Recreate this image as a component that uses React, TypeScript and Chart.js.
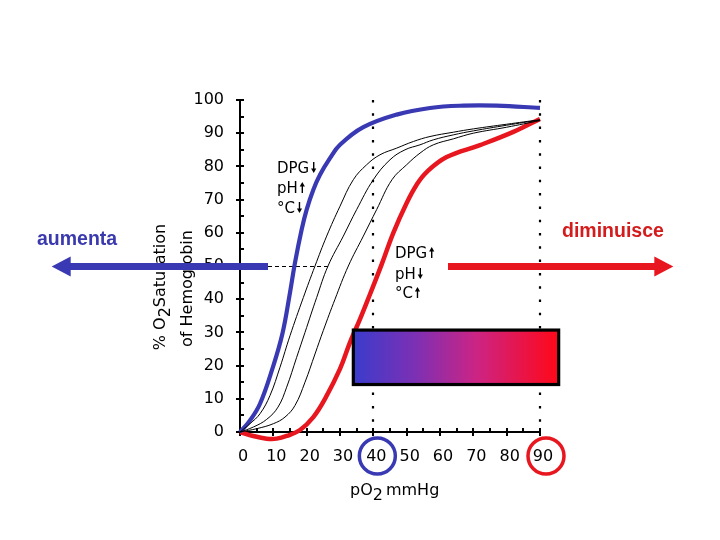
import React, { useEffect, useRef } from "react";
import { Chart, registerables } from "chart.js";

Chart.register(...registerables);

// ---- axis ticks ----
const xTickValues = [0, 10, 20, 30, 40, 50, 60, 70, 80, 90];
const yTickValues = [0, 10, 20, 30, 40, 50, 60, 70, 80, 90, 100];

// ---- left-shifted curve (blue): DPG down, pH up, temperature down ----
const bluePO2 = [0, 3, 6, 9.7, 12.7, 15, 16.5, 18.5, 20, 22, 24, 27, 30, 37, 47, 57, 67, 77, 90];
const blueSat = [0, 3.5, 8.5, 19, 29.5, 42, 51, 61, 67, 73, 77.5, 82.5, 86.5, 91.8, 95.6, 97.6, 98.3, 98.3, 97.6];

// ---- right-shifted curve (red): DPG up, pH down, temperature up ----
const redPO2 = [0, 4, 8, 11, 14, 18, 22, 25.5, 30, 33, 36, 39, 42.5, 46, 50, 53, 56, 62, 72, 82, 90];
const redSat = [0, -1.2, -2, -2, -1.2, 0.6, 4.5, 10, 19, 27, 34, 41.5, 50.5, 60, 69, 74.5, 78.3, 82.8, 86.4, 90.4, 94.3];

// ---- intermediate thin curves ----
const thinAPO2 = [0, 3, 6, 9, 12, 15, 19, 22.5, 26, 30, 34, 38, 42, 47, 52, 57, 64, 70, 80, 90, 94];
const thinASat = [0, 2.5, 5.5, 11, 19.5, 29, 40.5, 50, 59, 68, 76, 80.5, 83.5, 85.5, 87.5, 89, 90.3, 91.3, 92.7, 94, 94.2];
const thinBPO2 = [0, 4, 8, 11.4, 14, 17, 19.5, 23, 26.4, 31, 35, 40, 45, 49.5, 54, 58, 64, 70, 80, 90];
const thinBSat = [0, 1.5, 3.8, 7.5, 13.5, 22.5, 30, 40.5, 50, 59, 67, 76, 82, 85, 86.5, 88, 89.5, 90.7, 92.4, 94];
const thinCPO2 = [0, 5, 10, 13.5, 16.5, 19.5, 22.5, 25, 28.5, 32.5, 37, 41, 45.6, 50, 54, 58, 64, 70, 80, 90];
const thinCSat = [0, 1, 2.5, 4.5, 8, 15, 23.5, 30.6, 40, 50, 59, 67, 76, 80.5, 84, 86.5, 88.3, 90, 91.8, 93.8];

// ---- reference values ----
const markerPO2 = [40, 90]; // venous / arterial pO2
const p50PO2 = 26.4;
const p50Sat = 50;

// ---- annotation texts ----
const leftLabel = "aumenta";
const rightLabel = "diminuisce";
const leftShiftLines = [
  { text: "DPG", up: false },
  { text: "pH", up: true },
  { text: "°C", up: false },
];
const rightShiftLines = [
  { text: "DPG", up: true },
  { text: "pH", up: false },
  { text: "°C", up: true },
];

const FONT = "DejaVu Sans";
const BLUE = "#3939b4";
const RED = "#e8161e";

const toPoints = (xs: number[], ys: number[]) => xs.map((x, i) => ({ x, y: ys[i] }));

function smallArrow(ctx: CanvasRenderingContext2D, x: number, baseline: number, up: boolean) {
  const top = baseline - 11;
  const bottom = baseline;
  ctx.lineWidth = 1.4;
  ctx.beginPath();
  ctx.moveTo(x, up ? top + 3 : top);
  ctx.lineTo(x, up ? bottom : bottom - 3);
  ctx.stroke();
  ctx.beginPath();
  if (up) {
    ctx.moveTo(x, top);
    ctx.lineTo(x - 2.6, top + 4.5);
    ctx.lineTo(x + 2.6, top + 4.5);
  } else {
    ctx.moveTo(x, bottom);
    ctx.lineTo(x - 2.6, bottom - 4.5);
    ctx.lineTo(x + 2.6, bottom - 4.5);
  }
  ctx.closePath();
  ctx.fill();
}

function bigArrow(ctx: CanvasRenderingContext2D, x0: number, x1: number, y: number, color: string) {
  const dir = x1 > x0 ? 1 : -1;
  const headLen = 19;
  ctx.strokeStyle = color;
  ctx.fillStyle = color;
  ctx.lineWidth = 7;
  ctx.beginPath();
  ctx.moveTo(x0, y);
  ctx.lineTo(x1 - dir * (headLen - 2), y);
  ctx.stroke();
  ctx.beginPath();
  ctx.moveTo(x1, y);
  ctx.lineTo(x1 - dir * headLen, y - 10);
  ctx.lineTo(x1 - dir * headLen, y + 10);
  ctx.closePath();
  ctx.fill();
}

const decor = {
  id: "decor",
  beforeDatasetsDraw(chart: any) {
    const { ctx, scales } = chart;
    const x = scales.x;
    const y = scales.y;
    const x0 = x.getPixelForValue(0);
    const y0 = y.getPixelForValue(0);
    const yTop = y.getPixelForValue(100);
    ctx.save();
    ctx.strokeStyle = "#000";
    ctx.lineWidth = 2.2;
    ctx.setLineDash([2.5, 10.8]);
    for (const v of markerPO2) {
      const px = Math.round(x.getPixelForValue(v));
      ctx.beginPath();
      ctx.moveTo(px, yTop);
      ctx.lineTo(px, y0);
      ctx.stroke();
    }
    ctx.lineWidth = 1;
    ctx.setLineDash([4, 3]);
    const py50 = Math.round(y.getPixelForValue(p50Sat)) + 0.5;
    ctx.beginPath();
    ctx.moveTo(x0, py50);
    ctx.lineTo(x.getPixelForValue(p50PO2), py50);
    ctx.stroke();
    ctx.setLineDash([]);
    ctx.lineWidth = 2;
    ctx.beginPath();
    ctx.moveTo(x0, yTop);
    ctx.lineTo(x0, y0);
    ctx.lineTo(x.getPixelForValue(90), y0);
    ctx.stroke();
    for (let v = 0; v <= 100; v += 5) {
      const py = Math.round(y.getPixelForValue(v));
      const major = v % 10 === 0;
      ctx.beginPath();
      ctx.moveTo(major ? x0 - 4 : x0, py);
      ctx.lineTo(x0 + 4, py);
      ctx.stroke();
    }
    for (let v = 0; v <= 90; v += 5) {
      const px = Math.round(x.getPixelForValue(v));
      const major = v % 10 === 0;
      ctx.beginPath();
      ctx.moveTo(px, major ? y0 + 4 : y0);
      ctx.lineTo(px, y0 - 4);
      ctx.stroke();
    }
    ctx.restore();
  },
  afterDraw(chart: any) {
    const { ctx, scales } = chart;
    const x = scales.x;
    const y = scales.y;
    ctx.save();

    ctx.fillStyle = "#000";
    ctx.font = `16px "${FONT}"`;
    ctx.textBaseline = "alphabetic";
    {
      const a = "% O";
      const b = "2";
      const c = "Saturation";
      const w = ctx.measureText(a).width + ctx.measureText(b).width + ctx.measureText(c).width;
      ctx.save();
      ctx.translate(165, 287);
      ctx.rotate(-Math.PI / 2);
      let cx = -w / 2;
      ctx.textAlign = "left";
      ctx.fillText(a, cx, 0);
      cx += ctx.measureText(a).width;
      ctx.fillText(b, cx, 5);
      cx += ctx.measureText(b).width;
      ctx.fillText(c, cx, 0);
      ctx.restore();
      ctx.save();
      ctx.translate(192, 288.5);
      ctx.rotate(-Math.PI / 2);
      ctx.textAlign = "center";
      ctx.fillText("of Hemoglobin", 0, 0);
      ctx.restore();
    }
    {
      ctx.textAlign = "left";
      const a = "pO";
      const b = "2";
      const c = "mmHg";
      let cx = 350;
      ctx.fillText(a, cx, 495);
      cx += ctx.measureText(a).width;
      ctx.fillText(b, cx, 500);
      cx += ctx.measureText(b).width + 3;
      ctx.fillText(c, cx, 495);
    }

    ctx.font = `15px "${FONT}"`;
    ctx.textAlign = "left";
    ctx.strokeStyle = "#000";
    const blocks = [
      { lines: leftShiftLines, left: 277, baselines: [173, 193, 213] },
      { lines: rightShiftLines, left: 395, baselines: [258, 279, 298] },
    ];
    for (const b of blocks) {
      b.lines.forEach((ln, i) => {
        ctx.fillText(ln.text, b.left, b.baselines[i]);
        const w = ctx.measureText(ln.text).width;
        smallArrow(ctx, b.left + w + 4.5, b.baselines[i], ln.up);
      });
    }

    {
      const lx = x.getPixelForValue(34);
      const rx = x.getPixelForValue(95.6);
      const ty = y.getPixelForValue(30.7);
      const by = y.getPixelForValue(14.3);
      const g = ctx.createLinearGradient(lx, 0, rx, 0);
      g.addColorStop(0, "#3a3ccc");
      g.addColorStop(0.3, "#7c30b4");
      g.addColorStop(0.6, "#cc2484");
      g.addColorStop(1, "#ff0818");
      ctx.fillStyle = g;
      ctx.fillRect(lx, ty, rx - lx, by - ty);
      ctx.strokeStyle = "#000";
      ctx.lineWidth = 3.2;
      ctx.strokeRect(lx, ty, rx - lx, by - ty);
    }

    const ay = y.getPixelForValue(p50Sat) + 0.5;
    bigArrow(ctx, x.getPixelForValue(8.4), x.getPixelForValue(-56.5), ay, BLUE);
    bigArrow(ctx, x.getPixelForValue(62.4), x.getPixelForValue(130), ay, RED);

    ctx.font = `bold 19.5px "Liberation Sans", Arial, sans-serif`;
    ctx.textAlign = "left";
    ctx.fillStyle = "#3a3aae";
    ctx.fillText(leftLabel, 37, 245);
    ctx.fillStyle = "#d41c1c";
    ctx.fillText(rightLabel, 562, 237);

    const cy = 456;
    ctx.lineWidth = 3.5;
    ctx.strokeStyle = BLUE;
    ctx.beginPath();
    ctx.arc(x.getPixelForValue(markerPO2[0]) + 4, cy, 18, 0, Math.PI * 2);
    ctx.stroke();
    ctx.strokeStyle = RED;
    ctx.beginPath();
    ctx.arc(x.getPixelForValue(markerPO2[1]) + 6, cy, 18, 0, Math.PI * 2);
    ctx.stroke();

    ctx.restore();
  },
};

export default function App() {
  const ref = useRef<HTMLCanvasElement | null>(null);
  useEffect(() => {
    if (!ref.current) return;
    const thin = (xs: number[], ys: number[]) => ({
      data: toPoints(xs, ys),
      borderColor: "#000",
      borderWidth: 1,
      tension: 0.4,
      clip: false as any,
      pointRadius: 0,
    });
    const chart = new Chart(ref.current, {
      type: "line",
      data: {
        datasets: [
          thin(thinAPO2, thinASat),
          thin(thinBPO2, thinBSat),
          thin(thinCPO2, thinCSat),
          {
            data: toPoints(bluePO2, blueSat),
            borderColor: BLUE,
            borderWidth: 4.2,
            tension: 0.4,
            clip: false as any,
            pointRadius: 0,
          },
          {
            data: toPoints(redPO2, redSat),
            borderColor: RED,
            borderWidth: 4.5,
            tension: 0.4,
            clip: false as any,
            pointRadius: 0,
          },
        ],
      },
      options: {
        animation: false,
        responsive: false,
        layout: { padding: { top: 100, right: 180, left: 0, bottom: 0 } },
        plugins: { legend: { display: false }, tooltip: { enabled: false } },
        scales: {
          x: {
            type: "linear",
            min: 0,
            max: 90,
            afterFit: (s: any) => {
              s.height = 108;
            },
            afterBuildTicks: (s: any) => {
              s.ticks = xTickValues.map((v) => ({ value: v }));
            },
            grid: { display: false, drawTicks: false },
            border: { display: false },
            ticks: {
              autoSkip: false,
              maxRotation: 0,
              padding: 15,
              labelOffset: 3,
              color: "#000",
              font: { family: FONT, size: 16 },
            },
          },
          y: {
            type: "linear",
            min: 0,
            max: 100,
            afterFit: (s: any) => {
              s.width = 240;
            },
            afterBuildTicks: (s: any) => {
              s.ticks = yTickValues.map((v) => ({ value: v }));
            },
            grid: { display: false, drawTicks: false },
            border: { display: false },
            ticks: {
              autoSkip: false,
              padding: 16,
              color: "#000",
              font: { family: FONT, size: 16 },
            },
          },
        },
      },
      plugins: [decor],
    });
    return () => chart.destroy();
  }, []);
  return (
    <div style={{ position: "absolute", left: 0, top: 0, width: 720, height: 540, background: "#fff" }}>
      <canvas ref={ref} width={720} height={540} style={{ width: 720, height: 540 }} />
    </div>
  );
}
